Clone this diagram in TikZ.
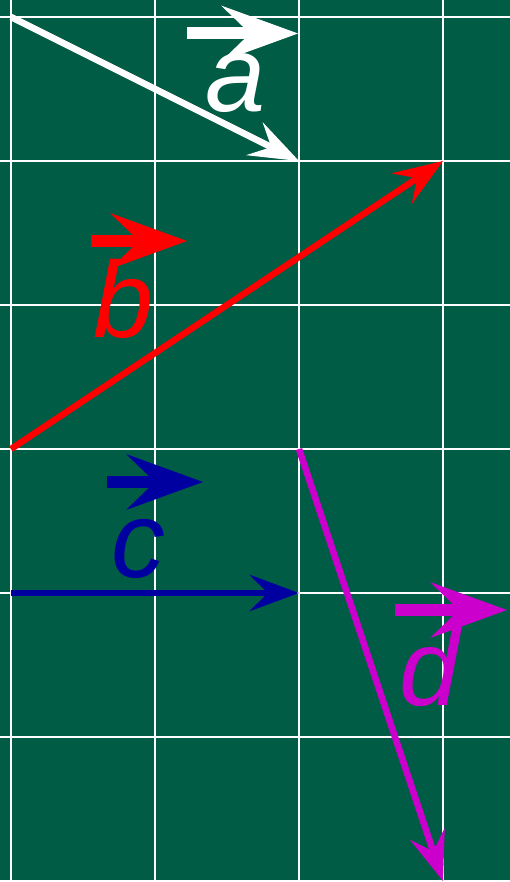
\documentclass[tikz,border=0pt]{standalone}
\usepackage{fontspec}
\setmainfont{Liberation Sans}
\usetikzlibrary{arrows.meta}
\definecolor{board}{HTML}{005C45}
\definecolor{vred}{HTML}{FF0000}
\definecolor{vblue}{HTML}{0000A0}
\definecolor{vmag}{HTML}{CC00CC}
\tikzset{
  gridline/.style={white, line width=2pt},
  vecline/.style={line width=6.5pt, -{Stealth[length=50pt,width=37pt,inset=19pt,line width=0pt]}},
  labarrow/.style={line width=12pt, -{Stealth[length=77pt,width=56pt,inset=29pt,line width=0pt]}},
  vlabel/.style={anchor=base, inner sep=0pt, font=\fontsize{108}{108}\selectfont\itshape}
}
\begin{document}
\begin{tikzpicture}[x=1pt,y=-1pt]
\useasboundingbox (0,0) rectangle (510,882);
\fill[board] (0,0) rectangle (510,882);
\begin{scope}
\clip (0,0) rectangle (510,882);
\foreach \x in {11,155,299,443} \draw[gridline] (\x,0) -- (\x,882);
\foreach \y in {17,161,305,449,593,737,881} \draw[gridline] (0,\y) -- (510,\y);
\end{scope}
% grid points
\coordinate (p00) at (11,17);
\coordinate (p21) at (299,161);
\coordinate (p31) at (443,161);
\coordinate (p03) at (11,449);
\coordinate (p23) at (299,449);
\coordinate (p04) at (11,593);
\coordinate (p24) at (299,593);
\coordinate (p36) at (443,881);
% vectors
\draw[vecline, white] (p00) -- (p21);
\draw[vecline, vred] (p03) -- (p31);
\draw[vecline, vblue] (p04) -- (p24);
\draw[vecline, vmag] (p23) -- (p36);
% labels
\node[vlabel, text=white] (la) at (236,112) {a};
\node[vlabel, text=vred] (lb) at (124,337) {b};
\node[vlabel, text=vblue] (lc) at (138,577) {c};
\node[vlabel, text=vmag] (ld) at (430,705) {d};
\coordinate (as) at (187,33.5); \coordinate (ae) at (298,33.5);
\coordinate (bs) at (91,241); \coordinate (be) at (187,241);
\coordinate (cs) at (107,482); \coordinate (ce) at (203,482);
\coordinate (ds) at (395,610); \coordinate (de) at (507,610);
\draw[labarrow, white] (as) -- (ae);
\draw[labarrow, vred] (bs) -- (be);
\draw[labarrow, vblue] (cs) -- (ce);
\draw[labarrow, vmag] (ds) -- (de);
\end{tikzpicture}
\end{document}
